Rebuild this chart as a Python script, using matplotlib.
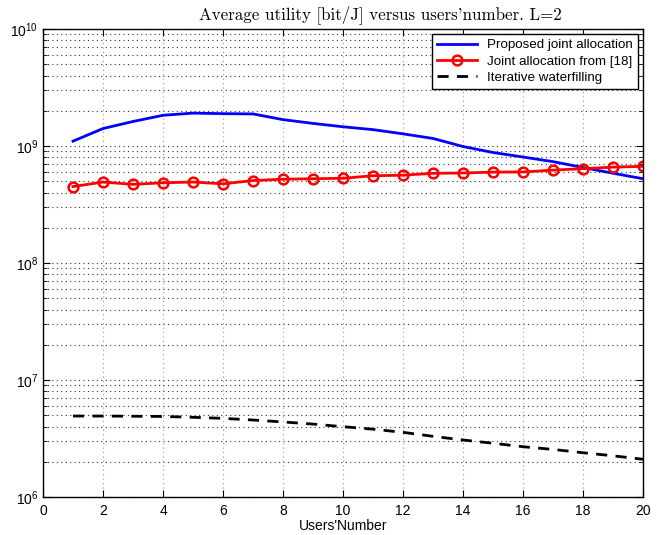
import matplotlib
matplotlib.use("Agg")
import matplotlib.pyplot as plt
import numpy as np
from matplotlib.ticker import LogLocator, NullFormatter

users = [1, 2, 3, 4, 5, 6, 7, 8, 9, 10, 11, 12, 13, 14, 15, 16, 17, 18, 19, 20]
proposed = [1.10e9, 1.41e9, 1.62e9, 1.83e9, 1.91e9, 1.89e9, 1.88e9, 1.68e9, 1.56e9, 1.46e9,
            1.38e9, 1.27e9, 1.16e9, 9.9e8, 8.8e8, 8.05e8, 7.35e8, 6.55e8, 5.85e8, 5.25e8]
joint18 = [4.5e8, 4.92e8, 4.7e8, 4.85e8, 4.92e8, 4.75e8, 5.07e8, 5.2e8, 5.25e8, 5.3e8,
           5.57e8, 5.63e8, 5.84e8, 5.88e8, 5.98e8, 6.0e8, 6.22e8, 6.4e8, 6.6e8, 6.7e8]
waterfill = [4.92e6, 4.92e6, 4.9e6, 4.88e6, 4.8e6, 4.7e6, 4.55e6, 4.38e6, 4.2e6, 3.99e6,
             3.8e6, 3.57e6, 3.3e6, 3.07e6, 2.88e6, 2.69e6, 2.55e6, 2.39e6, 2.25e6, 2.1e6]

plt.rcParams['font.family'] = ['Liberation Sans', 'DejaVu Sans']

fig = plt.figure(figsize=(6.63, 5.35), dpi=100)
ax = fig.add_axes([43/663, 1-497/535, 600/663, 468/535])

ax.plot(users, proposed, color='#0000ff', lw=2, label='Proposed joint allocation')
ax.plot(users, joint18, color='#ff0000', lw=2, marker='o', ms=7, mfc='none', mew=1.8,
        label='Joint allocation from [18]')
ax.plot(users, waterfill, color='black', lw=2, ls=(0, (4, 3)), label='Iterative waterfilling')

ax.set_yscale('log')
ax.set_xlim(0, 20)
ax.set_ylim(1e6, 1e10)
ax.set_xticks(range(0, 21, 2))
ax.yaxis.set_major_locator(LogLocator(base=10, numticks=10))
ax.yaxis.set_minor_locator(LogLocator(base=10, subs=np.arange(2, 10), numticks=50))
ax.yaxis.set_minor_formatter(NullFormatter())

ax.tick_params(which='both', direction='in', top=True, right=True, labelsize=10)
ax.tick_params(axis='x', which='major', pad=5)
ax.tick_params(which='major', length=5)
ax.tick_params(which='minor', length=3)

ax.grid(True, axis='x', which='major', ls=(0, (1, 3)), color='#999999', lw=0.8)
ax.grid(True, axis='y', which='both', ls=(0, (1, 3)), color='#333333', lw=0.8)

for s in ax.spines.values():
    s.set_linewidth(1.0)

ax.set_xlabel("Users'Number", fontsize=10, labelpad=1)
ax.set_title("Average utility [bit/J] versus users'number. L=2", fontfamily='cmr10',
             fontsize=12.2, x=0.563, pad=7)

leg = ax.legend(loc='upper right', fontsize=9.6, fancybox=False, framealpha=1,
                edgecolor='black', borderpad=0.35, labelspacing=0.3, handlelength=3,
                borderaxespad=0.4)
leg.get_frame().set_linewidth(1.0)

fig.savefig('out.png', dpi=100)
